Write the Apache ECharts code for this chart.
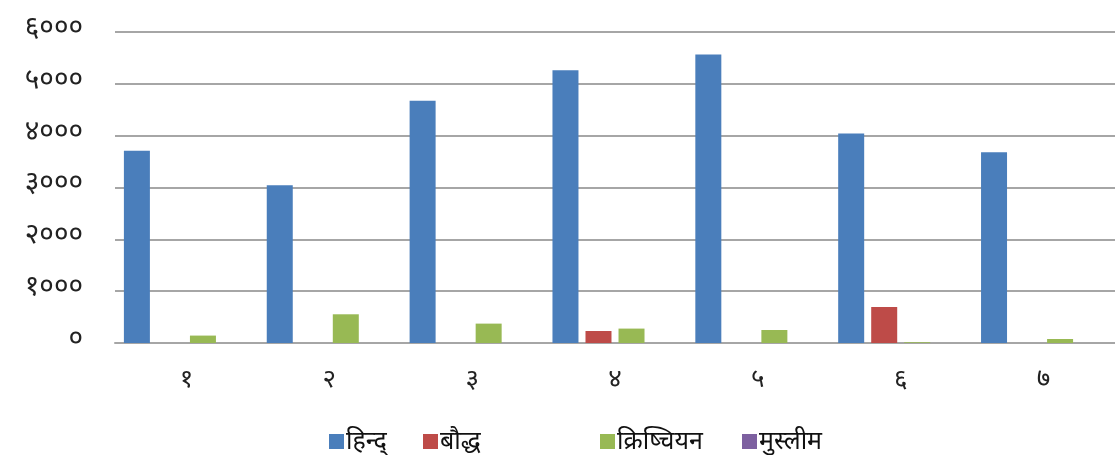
<!DOCTYPE html>
<html>
<head>
<meta charset="utf-8">
<script src="https://cdn.jsdelivr.net/npm/echarts@6/dist/echarts.min.js"></script>
<style>
html,body{margin:0;padding:0;background:#fff;}
#c{width:1115px;height:455px;}
</style>
</head>
<body>
<div id="c"></div>
<script>
const categories = ['१','२','३','४','५','६','७'];
const yTickLabels = {0:'०',1000:'१०००',2000:'२०००',3000:'३०००',4000:'४०००',5000:'५०००',6000:'६०००'};
const seriesNames = ['हिन्द्','बौद्ध','क्रिष्चियन','मुस्लीम'];
const hindu = [3707, 3044, 4672, 5264, 5568, 4042, 3681];
const bauddha = [0, 0, 0, 232, 0, 695, 0];
const christian = [143, 554, 374, 278, 251, 15, 77];
const muslim = [0, 0, 0, 0, 0, 0, 0];
const colors = ['#4a7ebb', '#be4b48', '#98b954', '#7d60a0'];
const values = [hindu, bauddha, christian, muslim];

const chart = echarts.init(document.getElementById('c'));
const legendLefts = [324, 418, 595, 737];
const fontFam = '"Noto Sans", "DejaVu Sans", sans-serif';
chart.setOption({
  animation: false,
  grid: {left: 115, width: 1012, top: 32, bottom: 112, containLabel: false},
  legend: seriesNames.map((n, i) => ({
    data: [n], left: legendLefts[i], top: 424, itemWidth: 15, itemHeight: 15,
    itemGap: 4, icon: 'rect',
    textStyle: {fontSize: 25, color: '#111', fontFamily: fontFam, padding: [0,0,0,-3]}
  })),
  xAxis: {
    type: 'category', data: categories,
    axisLine: {show: true, lineStyle: {color: '#a6a6a6', width: 2}},
    axisTick: {show: false},
    axisLabel: {fontSize: 26, color: '#222', margin: 24, fontFamily: fontFam}
  },
  yAxis: {
    type: 'value', min: 0, max: 6000, interval: 1000,
    axisLine: {show: false}, axisTick: {show: false},
    splitLine: {lineStyle: {color: '#a6a6a6', width: 2}},
    axisLabel: {fontSize: 28, color: '#222', margin: 32, fontFamily: fontFam,
      verticalAlign: 'bottom', lineHeight: 28, padding: [0,0,-10,0],
      formatter: v => yTickLabels[v]}
  },
  series: values.map((d, i) => ({
    name: seriesNames[i], type: 'bar', data: d, barWidth: 26, barGap: '27%',
    itemStyle: {color: colors[i]}
  }))
});
</script>
</body>
</html>
